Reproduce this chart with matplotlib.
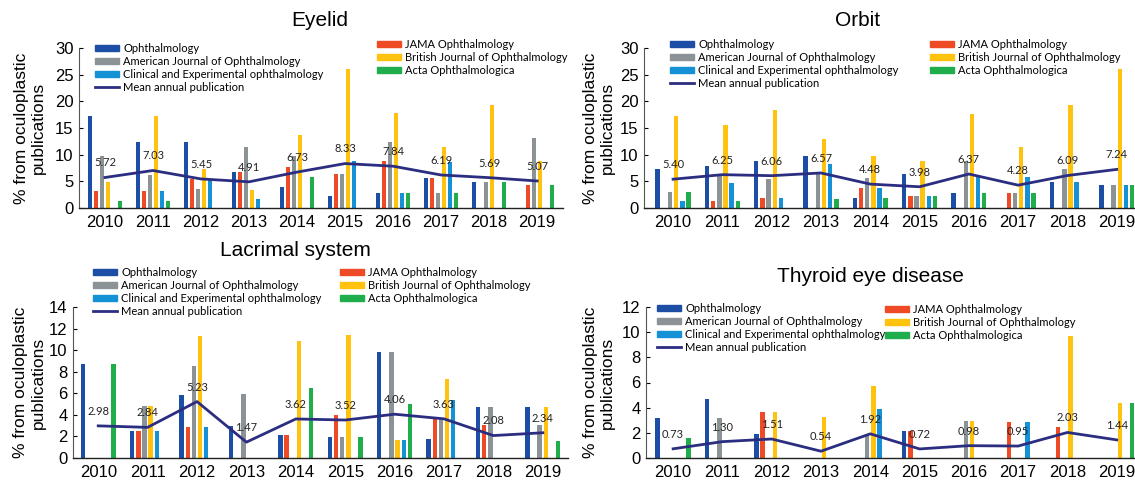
import numpy as np
import matplotlib
matplotlib.use('Agg')
import matplotlib.pyplot as plt
from matplotlib.patches import Patch
from matplotlib.lines import Line2D

years = ['2010', '2011', '2012', '2013', '2014', '2015', '2016', '2017', '2018', '2019']
journals = ['Ophthalmology', 'JAMA Ophthalmology', 'American Journal of Ophthalmology',
            'British Journal of Ophthalmology', 'Clinical and Experimental ophthalmology',
            'Acta Ophthalmologica']

# Eyelid
eyelid_oph = [17.3, 12.4, 12.4, 6.7, 3.9, 2.2, 2.9, 5.7, 4.8, 0]
eyelid_jama = [3.1, 3.1, 5.4, 6.7, 7.6, 6.4, 8.9, 5.7, 0, 4.3]
eyelid_ajo = [9.7, 6.1, 3.6, 11.4, 9.7, 6.4, 12.3, 2.9, 4.8, 13.1]
eyelid_bjo = [4.8, 17.3, 7.3, 3.4, 13.6, 26.1, 17.8, 11.4, 19.4, 8.9]
eyelid_clin = [0, 3.1, 5.4, 1.75, 0, 8.9, 2.9, 8.6, 0, 0]
eyelid_acta = [1.4, 1.4, 0, 0, 5.75, 0, 2.9, 2.9, 4.8, 4.3]
eyelid_mean = [5.72, 7.03, 5.45, 4.91, 6.73, 8.33, 7.84, 6.19, 5.69, 5.07]

# Orbit
orbit_oph = [7.3, 7.8, 8.9, 9.7, 1.9, 6.4, 2.9, 0, 4.8, 4.3]
orbit_jama = [0, 1.4, 1.9, 0, 3.75, 2.2, 0, 2.9, 0, 0]
orbit_ajo = [3.0, 6.1, 5.4, 6.7, 5.6, 2.2, 8.75, 2.9, 7.3, 4.3]
orbit_bjo = [17.2, 15.5, 18.3, 12.9, 9.7, 8.75, 17.7, 11.4, 19.4, 26.1]
orbit_clin = [1.4, 4.7, 1.9, 8.25, 3.75, 2.2, 5.9, 5.75, 4.8, 4.3]
orbit_acta = [3.0, 1.4, 0, 1.7, 1.9, 2.2, 2.9, 2.9, 0, 4.3]
orbit_mean = [5.40, 6.25, 6.06, 6.57, 4.48, 3.98, 6.37, 4.28, 6.09, 7.24]

# Lacrimal system
lacrimal_oph = [8.7, 2.5, 5.8, 3.0, 2.15, 1.95, 9.85, 1.8, 4.7, 4.7]
lacrimal_jama = [0, 2.5, 2.85, 0, 2.15, 3.95, 0, 3.6, 3.1, 0]
lacrimal_ajo = [0, 4.85, 8.55, 5.9, 0, 1.95, 9.85, 3.6, 4.7, 3.1]
lacrimal_bjo = [0, 4.85, 11.3, 0, 10.85, 11.45, 1.7, 7.3, 0, 4.7]
lacrimal_clin = [0, 2.5, 2.85, 0, 0, 0, 1.7, 5.4, 0, 0]
lacrimal_acta = [8.7, 0, 0, 0, 6.45, 1.95, 5.0, 0, 0, 1.6]
lacrimal_mean = [2.98, 2.84, 5.23, 1.47, 3.62, 3.52, 4.06, 3.63, 2.08, 2.34]

# Thyroid eye disease
thyroid_oph = [3.15, 4.65, 1.9, 0, 0, 2.15, 0, 0, 0, 0]
thyroid_jama = [0, 0, 3.65, 0, 0, 2.15, 0, 2.85, 2.45, 0]
thyroid_ajo = [0, 3.15, 0, 0, 1.9, 0, 2.95, 0, 0, 0]
thyroid_bjo = [0, 0, 3.65, 3.25, 5.75, 0, 2.95, 0, 9.7, 4.35]
thyroid_clin = [0, 0, 0, 0, 3.9, 0, 0, 2.85, 0, 0]
thyroid_acta = [1.6, 0, 0, 0, 0, 0, 0, 0, 0, 4.35]
thyroid_mean = [0.73, 1.30, 1.51, 0.54, 1.92, 0.72, 0.98, 0.95, 2.03, 1.44]

colors = ['#1c4ea6', '#ef4a26', '#8b9396', '#ffc20e', '#1591d6', '#1fae4b']
mean_color = '#2b2e80'

W, H = 1135, 484
TICK_FONT = 'Liberation Sans'
KEY_FONT = 'Lato'

fig = plt.figure(figsize=(W / 100, H / 100), dpi=100)


def px_box(left, right, top, bottom):
    return [left / W, 1 - bottom / H, (right - left) / W, (bottom - top) / H]


panels = [
    dict(title='Eyelid', series=[eyelid_oph, eyelid_jama, eyelid_ajo, eyelid_bjo, eyelid_clin, eyelid_acta],
         mean=eyelid_mean, box=(79, 563, 48, 208), xlim=(-0.54, 9.54), ymax=30, ystep=5,
         title_xy=(320, 21), key_left=(95, 43), key_right=(377, 39), ylab_x=-0.068),
    dict(title='Orbit', series=[orbit_oph, orbit_jama, orbit_ajo, orbit_bjo, orbit_clin, orbit_acta],
         mean=orbit_mean, box=(644, 1135, 48, 208), xlim=(-0.59, 9.37), ymax=30, ystep=5,
         title_xy=(858, 21), key_left=(670, 39), key_right=(930, 39), ylab_x=-0.059),
    dict(title='Lacrimal system', series=[lacrimal_oph, lacrimal_jama, lacrimal_ajo, lacrimal_bjo,
                                          lacrimal_clin, lacrimal_acta],
         mean=lacrimal_mean, box=(73, 568, 307, 458), xlim=(-0.51, 9.51), ymax=14, ystep=2,
         title_xy=(295, 250), key_left=(93, 267), key_right=(340, 267), ylab_x=-0.055),
    dict(title='Thyroid eye disease', series=[thyroid_oph, thyroid_jama, thyroid_ajo, thyroid_bjo,
                                              thyroid_clin, thyroid_acta],
         mean=thyroid_mean, box=(646, 1135, 307, 458), xlim=(-0.55, 9.37), ymax=12, ystep=2,
         title_xy=(870, 276), key_left=(657, 303), key_right=(885, 304), ylab_x=-0.063),
]

x = np.arange(len(years))
slot = 0.125
bar_w = 0.09

key_kw = dict(loc='upper left', bbox_transform=fig.transFigure, frameon=False,
              prop={'family': KEY_FONT, 'size': 8}, borderpad=0, borderaxespad=0,
              handlelength=2.2, handleheight=0.55, handletextpad=0.35, labelspacing=0.18)

for p in panels:
    ax = fig.add_axes(px_box(*p['box']))
    for i, vals in enumerate(p['series']):
        ax.bar(x + (i - 2.5) * slot, vals, width=bar_w, color=colors[i], zorder=2)
    ax.plot(x, p['mean'], color=mean_color, lw=2, zorder=3)
    for xi, m in zip(x, p['mean']):
        ax.annotate(f'{m:.2f}', (xi, m), xytext=(0, 10.5), textcoords='offset points',
                    ha='center', va='center', fontsize=8, family=KEY_FONT, color='#222222',
                    zorder=4)

    ax.set_xlim(*p['xlim'])
    ax.set_ylim(0, p['ymax'])
    ax.set_xticks(x)
    ax.set_xticklabels(years, family=TICK_FONT, fontsize=12)
    ax.set_yticks(np.arange(0, p['ymax'] + 1, p['ystep']))
    ax.set_yticklabels([str(v) for v in range(0, p['ymax'] + 1, p['ystep'])],
                       family=TICK_FONT, fontsize=12)
    ax.tick_params(axis='x', length=0, pad=5)
    ax.tick_params(axis='y', direction='in', length=3, width=0.8, pad=4)
    for s in ['top', 'right']:
        ax.spines[s].set_visible(False)
    ax.spines['left'].set_color('#555555')
    ax.spines['left'].set_linewidth(0.8)
    ax.spines['bottom'].set_color('#222222')
    ax.spines['bottom'].set_linewidth(1.0)

    ax.set_ylabel('% from oculoplastic\npublications', family=TICK_FONT, fontsize=12.5)
    ax.yaxis.set_label_coords(p['ylab_x'], 0.5)

    tx, ty = p['title_xy']
    fig.text(tx / W, 1 - ty / H, p['title'], ha='center', va='center',
             family=TICK_FONT, fontsize=15)

    left_handles = [Patch(color=colors[0]), Patch(color=colors[2]), Patch(color=colors[4]),
                    Line2D([], [], color=mean_color, lw=2)]
    left_labels = [journals[0], journals[2], journals[4], 'Mean annual publication']
    kx, ky = p['key_left']
    leg1 = ax.legend(left_handles, left_labels, bbox_to_anchor=(kx / W, 1 - ky / H), **key_kw)
    ax.add_artist(leg1)
    right_handles = [Patch(color=colors[1]), Patch(color=colors[3]), Patch(color=colors[5])]
    right_labels = [journals[1], journals[3], journals[5]]
    kx, ky = p['key_right']
    ax.legend(right_handles, right_labels, bbox_to_anchor=(kx / W, 1 - ky / H), **key_kw)

fig.savefig('out.png', dpi=100)
